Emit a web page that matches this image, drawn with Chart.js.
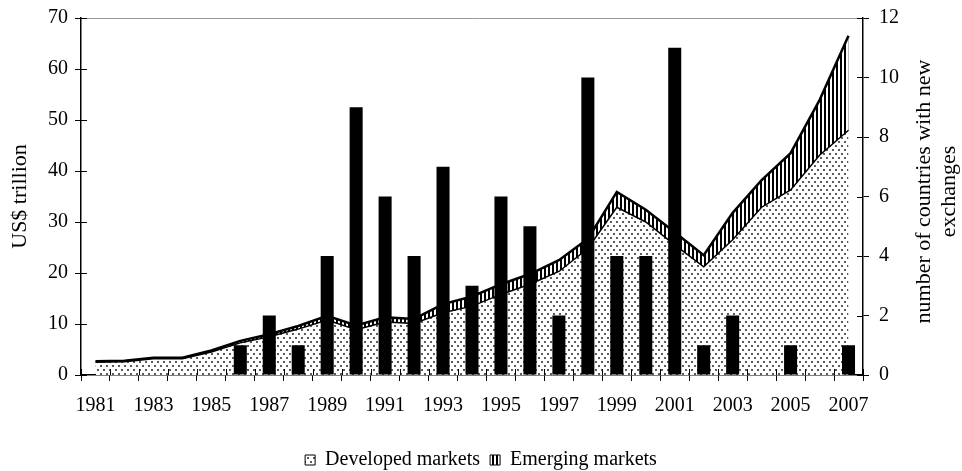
<!DOCTYPE html>
<html>
<head>
<meta charset="utf-8">
<script src="https://cdn.jsdelivr.net/npm/chart.js@4/dist/chart.umd.min.js"></script>
<style>
html,body{margin:0;padding:0;background:#fff;}
#wrap{width:962px;height:471px;position:relative;}
canvas{display:block;}
</style>
</head>
<body>
<div id="wrap"><canvas id="c" width="962" height="471"></canvas></div>
<script>
// ---- data ----
const years = ['1981','1982','1983','1984','1985','1986','1987','1988','1989','1990',
  '1991','1992','1993','1994','1995','1996','1997','1998','1999','2000',
  '2001','2002','2003','2004','2005','2006','2007'];
const shownYearLabels = ['1981','1983','1985','1987','1989','1991','1993','1995',
  '1997','1999','2001','2003','2005','2007'];
// US$ trillion, developed markets
const developedMarkets = [2.5, 2.6, 3.2, 3.2, 4.5, 6.3, 7.5, 9.0, 10.8, 8.9,
  10.4, 10.1, 12.2, 13.5, 15.8, 17.8, 20.3, 24.8, 32.9, 30.0,
  25.5, 21.2, 26.5, 32.9, 36.3, 43.1, 48.0];
// US$ trillion, emerging markets (stacked on top of developed)
const emergingMarkets = [0.2, 0.2, 0.2, 0.2, 0.3, 0.4, 0.5, 0.6, 0.8, 0.8,
  0.9, 0.9, 1.7, 1.9, 2.0, 2.0, 2.2, 1.9, 3.0, 2.4,
  2.5, 2.3, 5.3, 5.3, 7.2, 10.8, 18.5];
// number of countries with new exchanges
const newExchanges = [0, 0, 0, 0, 0, 1, 2, 1, 4, 9,
  6, 4, 7, 3, 6, 5, 2, 10, 4, 4,
  11, 1, 2, 0, 1, 0, 1];
const leftAxisTitle = 'US$ trillion';
const rightAxisTitle = ['number of countries with new', 'exchanges'];
const legendNames = ['Developed markets', 'Emerging markets'];

// ---- fill patterns ----
function dotPattern() {
  const c = document.createElement('canvas');
  c.width = 6; c.height = 8;
  const g = c.getContext('2d');
  g.fillStyle = '#ffffff'; g.fillRect(0, 0, 6, 8);
  g.fillStyle = '#5c5c5c';
  g.fillRect(1, 1, 2, 2);
  g.fillRect(4, 5, 2, 2);
  return g.createPattern(c, 'repeat');
}
function stripePattern() {
  const c = document.createElement('canvas');
  c.width = 4; c.height = 4;
  const g = c.getContext('2d');
  g.fillStyle = '#ffffff'; g.fillRect(0, 0, 4, 4);
  g.fillStyle = '#000000'; g.fillRect(0, 0, 2, 4);
  return g.createPattern(c, 'repeat');
}

Chart.defaults.font.family = '"Liberation Serif", "Times New Roman", serif';
Chart.defaults.color = '#000';

const extras = {
  id: 'extras',
  afterDatasetsDraw(chart) {
    const {ctx, chartArea} = chart;
    const {x, y, y1} = chart.scales;
    ctx.save();
    ctx.strokeStyle = '#000';
    ctx.lineWidth = 1;
    ctx.beginPath();
    y.ticks.forEach((t, i) => {
      const py = Math.round(y.getPixelForTick(i)) + 0.5;
      ctx.moveTo(chartArea.left, py); ctx.lineTo(chartArea.left + 6, py);
    });
    y1.ticks.forEach((t, i) => {
      const py = Math.round(y1.getPixelForTick(i)) + 0.5;
      ctx.moveTo(chartArea.right - 6, py); ctx.lineTo(chartArea.right, py);
    });
    for (let i = 0; i <= years.length; i++) {
      const px = Math.round(x.getPixelForValue(i - 0.5)) + 0.5;
      ctx.moveTo(px, chartArea.bottom - 6); ctx.lineTo(px, chartArea.bottom);
    }
    ctx.stroke();
    ctx.restore();
  },
  afterDraw(chart) {
    const {ctx, chartArea} = chart;
    const y1 = chart.scales.y1;
    ctx.save();
    ctx.font = '22px "Liberation Serif", serif';
    ctx.fillStyle = '#000';
    ctx.textAlign = 'center';
    ctx.textBaseline = 'middle';
    const cy = (chartArea.top + chartArea.bottom) / 2 - 5;
    const xs = [y1.right - 38, y1.right - 13];
    rightAxisTitle.forEach((line, i) => {
      ctx.save();
      ctx.translate(xs[i], cy);
      ctx.rotate(-Math.PI / 2);
      ctx.fillText(line, 0, 0);
      ctx.restore();
    });
    ctx.restore();
  }
};

new Chart(document.getElementById('c'), {
  type: 'bar',
  data: {
    labels: years,
    datasets: [
      {
        type: 'bar',
        label: 'New exchanges',
        data: newExchanges,
        yAxisID: 'y1',
        backgroundColor: '#000',
        borderWidth: 0,
        barPercentage: 0.45,
        categoryPercentage: 1.0,
        order: 0
      },
      {
        type: 'line',
        label: legendNames[0],
        data: developedMarkets,
        yAxisID: 'y',
        backgroundColor: dotPattern(),
        borderColor: '#000',
        borderWidth: 1.5,
        pointRadius: 0,
        tension: 0,
        fill: 'origin',
        order: 1
      },
      {
        type: 'line',
        label: legendNames[1],
        data: emergingMarkets,
        yAxisID: 'y',
        backgroundColor: stripePattern(),
        borderColor: '#000',
        borderWidth: 2.5,
        pointRadius: 0,
        tension: 0,
        fill: '-1',
        order: 1
      }
    ]
  },
  options: {
    responsive: false,
    animation: false,
    devicePixelRatio: 1,
    layout: { padding: { top: 18, left: 0, right: 0, bottom: -9 } },
    plugins: {
      tooltip: { enabled: false },
      legend: {
        position: 'bottom',
        labels: {
          font: { size: 20 },
          boxWidth: 10,
          boxHeight: 10,
          padding: 10,
          color: '#000',
          generateLabels(chart) {
            const items = Chart.defaults.plugins.legend.labels.generateLabels(chart);
            return items.filter(it => it.datasetIndex !== 0).map(it => {
              it.lineWidth = 1;
              it.strokeStyle = '#000';
              return it;
            });
          }
        }
      }
    },
    scales: {
      x: {
        offset: true,
        grid: {
          offset: true,
          display: true,
          drawOnChartArea: false,
          tickLength: 6,
          tickColor: '#000',
          lineWidth: 1
        },
        border: { color: '#000', width: 1.5 },
        ticks: {
          autoSkip: false,
          maxRotation: 0,
          minRotation: 0,
          padding: 13,
          font: { size: 20 },
          color: '#000',
          callback: function (val) {
            const lab = this.getLabelForValue(val);
            return shownYearLabels.includes(lab) ? lab : '';
          }
        },
        afterFit(scale) { scale.height = 65; }
      },
      y: {
        position: 'left',
        stacked: true,
        min: 0,
        max: 70,
        ticks: { stepSize: 10, padding: 7, font: { size: 20, lineHeight: 0.7 }, color: '#000' },
        grid: {
          drawOnChartArea: true,
          tickLength: 6,
          tickColor: '#000',
          color: ctx => (ctx.tick && ctx.tick.value === 70) ? '#9a9a9a' : 'rgba(0,0,0,0)'
        },
        border: { color: '#000', width: 1.5 },
        title: {
          display: true,
          text: leftAxisTitle,
          font: { size: 22 },
          color: '#000',
          padding: { top: 7, bottom: 0 }
        },
        afterFit(scale) { scale.width = 81; }
      },
      y1: {
        position: 'right',
        min: 0,
        max: 12,
        ticks: { stepSize: 2, padding: 10, font: { size: 20, lineHeight: 0.7 }, color: '#000' },
        grid: { drawOnChartArea: false, tickLength: 6, tickColor: '#000' },
        border: { color: '#000', width: 1.5 },
        afterFit(scale) { scale.width = 99; }
      }
    }
  },
  plugins: [extras]
});
</script>
</body>
</html>
